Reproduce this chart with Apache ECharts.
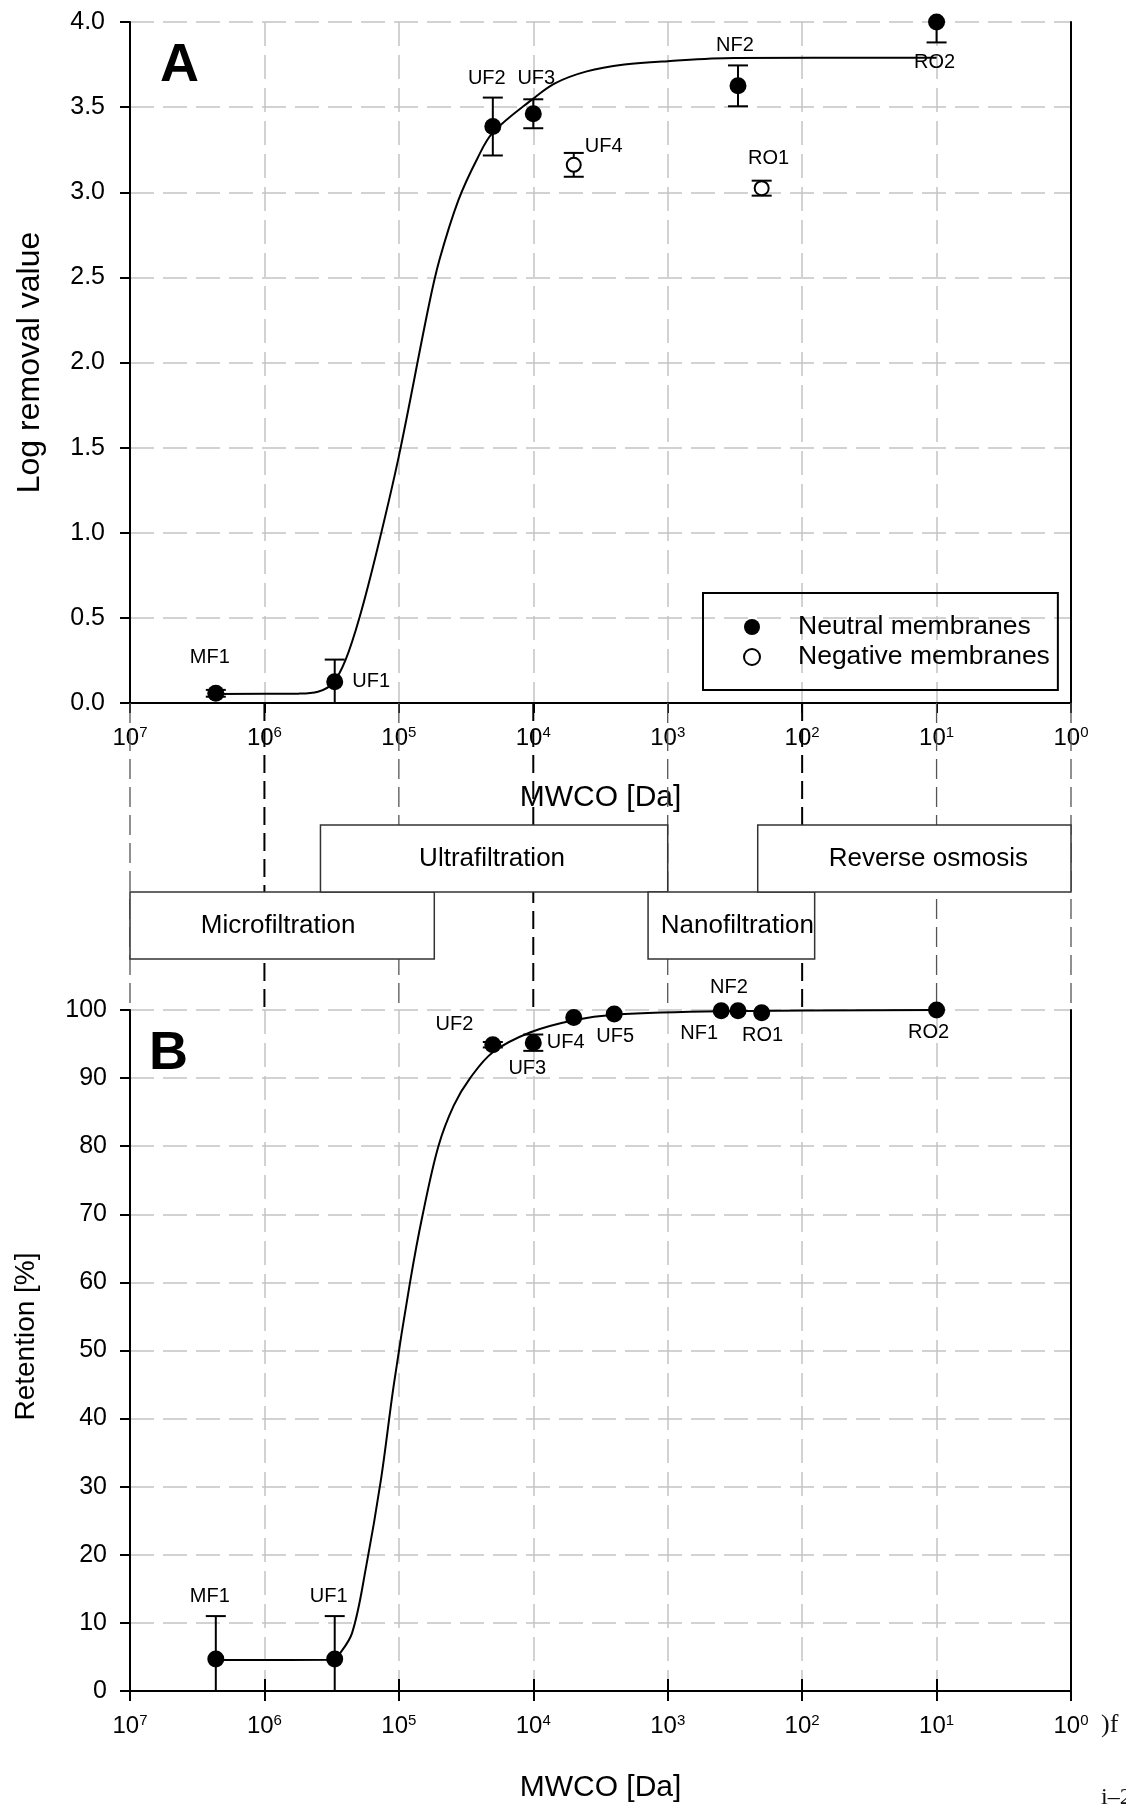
<!DOCTYPE html>
<html>
<head>
<meta charset="utf-8">
<script src="https://cdn.jsdelivr.net/npm/echarts@6/dist/echarts.min.js"></script>
<style>
  html, body { margin: 0; padding: 0; background: #fff; }
  #chart { width: 1126px; height: 1805px; }
</style>
</head>
<body>
<div id="chart"></div>
<script>
// MWCO decades shown on the axes
const decades = [1e7, 1e6, 1e5, 1e4, 1e3, 1e2, 1e1, 1];

// Panel A: log removal value
const namesA = ['MF1', 'UF1', 'UF2', 'UF3', 'UF4', 'NF2', 'RO1', 'RO2'];
const mwcoA = [2.3e6, 3e5, 2e4, 1e4, 5e3, 300, 200, 10];
const lrvA = [0.057, 0.125, 3.386, 3.461, 3.161, 3.625, 3.024, 4.0];
const lrvErrA = [0.02, 0.13, 0.17, 0.085, 0.07, 0.12, 0.044, 0.12];
const chargeA = ['neutral', 'neutral', 'neutral', 'neutral', 'negative', 'neutral', 'negative', 'neutral'];
// fitted curve
const fitMwcoA = [2.3e6, 5.6e5, 4e5, 3.1e5, 2.5e5, 1.95e5, 1.45e5, 1e5, 6e4, 5e4, 3.6e4, 2.6e4, 2e4, 1e4, 6.9e3, 4e3, 2.1e3, 1e3, 320, 10];
const fitLrvA = [0.053, 0.055, 0.066, 0.116, 0.25, 0.51, 0.9, 1.45, 2.33, 2.6, 2.955, 3.2, 3.35, 3.55, 3.64, 3.71, 3.75, 3.77, 3.788, 3.79];

// Panel B: retention
const namesB = ['MF1', 'UF1', 'UF2', 'UF3', 'UF4', 'UF5', 'NF1', 'NF2', 'RO1', 'RO2'];
const mwcoB = [2.3e6, 3e5, 2e4, 1e4, 5e3, 2.5e3, 400, 300, 200, 10];
const retB = [4.7, 4.7, 94.9, 95.2, 98.9, 99.4, 99.9, 99.9, 99.6, 100];
const retErrB = [6.3, 6.3, 0.4, 1.2, 0, 0, 0, 0, 0, 0];
const fitMwcoB = [2.3e6, 3e5, 2.86e5, 2.23e5, 1.75e5, 1.36e5, 1.09e5, 8.26e4, 6.64e4, 5.08e4, 3.9e4, 2.95e4, 2e4, 1.06e4, 5e3, 2.5e3, 400, 10];
const fitRetB = [4.55, 4.6, 5.0, 8.5, 18.3, 31, 45, 60, 70, 80, 86, 90, 93.8, 96.7, 98.5, 99.3, 99.8, 100];

// membrane process ranges (MWCO from / to, tier 0 = lower row)
const processNames = ['Microfiltration', 'Ultrafiltration', 'Nanofiltration', 'Reverse osmosis'];
const processFrom = [1e7, 3.83e5, 1.4e3, 214];
const processTo = [5.45e4, 1e3, 80.7, 1];
const processTier = [0, 1, 0, 1];

// label placement (layout only)
const labelA = {
  MF1: { position: 'top', distance: 17, offset: [-6, 0] },
  UF1: { position: 'right', distance: 9, offset: [0, 0] },
  UF2: { position: 'top', distance: 30, offset: [-6, 0] },
  UF3: { position: 'top', distance: 17, offset: [3, 0] },
  UF4: { position: 'right', distance: 3, offset: [0, -18] },
  NF2: { position: 'top', distance: 22, offset: [-3, 0] },
  RO1: { position: 'top', distance: 12, offset: [7, 0] },
  RO2: { position: 'bottom', distance: 22, offset: [-2, 0] }
};
const labelB = {
  MF1: { position: 'top', distance: 44, offset: [-6, 0] },
  UF1: { position: 'top', distance: 44, offset: [-6, 0] },
  UF2: { position: 'left', distance: 11, offset: [0, -20] },
  UF3: { position: 'bottom', distance: 7, offset: [-6, 0] },
  UF4: { position: 'bottom', distance: 6, offset: [-8, 0] },
  UF5: { position: 'bottom', distance: 4, offset: [1, 0] },
  NF1: { position: 'bottom', distance: 4, offset: [-22, 0] },
  NF2: { position: 'top', distance: 5, offset: [-9, 0] },
  RO1: { position: 'bottom', distance: 4, offset: [1, 0] },
  RO2: { position: 'bottom', distance: 4, offset: [-8, 0] }
};
// horizontal nudge of the text inside each process box
const boxTextShift = [-4, -2, 6, 14];

const FONT = '"Liberation Sans", Arial, sans-serif';
const GRID_LINE = { color: '#c4c4c4', width: 1.5, type: [24, 9] };

const chart = echarts.init(document.getElementById('chart'));

function decadeLabel(v) {
  return '{b|10}{s|' + Math.round(Math.log10(v)) + '}';
}
const tickRich = {
  b: { fontSize: 24, fontFamily: FONT, color: '#000' },
  s: { fontSize: 15, fontFamily: FONT, color: '#000', padding: [0, 0, 12, 0] }
};

function mwcoAxis(gridIndex, extra) {
  return Object.assign({
    gridIndex: gridIndex, type: 'log', logBase: 10, min: 1, max: 1e7,
    inverse: true, splitNumber: 7
  }, extra);
}

function errorBarItem(yMin, yMax) {
  return function (params, api) {
    const x = api.value(0), y = api.value(1), e = api.value(2);
    if (!e) return null;
    const hi = Math.min(y + e, yMax), lo = Math.max(y - e, yMin);
    const pHi = api.coord([x, hi]), pLo = api.coord([x, lo]);
    const cap = 10;
    const style = { stroke: '#000', lineWidth: 2 };
    const kids = [{ type: 'line', shape: { x1: pHi[0], y1: pHi[1], x2: pLo[0], y2: pLo[1] }, style: style }];
    if (hi === y + e) kids.push({ type: 'line', shape: { x1: pHi[0] - cap, y1: pHi[1], x2: pHi[0] + cap, y2: pHi[1] }, style: style });
    if (lo === y - e) kids.push({ type: 'line', shape: { x1: pLo[0] - cap, y1: pLo[1], x2: pLo[0] + cap, y2: pLo[1] }, style: style });
    return { type: 'group', children: kids };
  };
}

function pointData(names, xs, ys, layout, keep) {
  const out = [];
  names.forEach(function (n, i) {
    if (keep && !keep(i)) return;
    out.push({ name: n, value: [xs[i], ys[i]], label: layout[n] });
  });
  return out;
}

const pointLabel = { show: true, formatter: '{b}', color: '#000', fontSize: 20, fontFamily: FONT };

const option = {
  animation: false,
  backgroundColor: '#fff',
  textStyle: { fontFamily: FONT, color: '#000' },
  grid: [
    { left: 130, top: 22, width: 941, height: 681, outerBoundsMode: 'none' },
    { left: 130, top: 1010, width: 941, height: 681, outerBoundsMode: 'none' },
    { left: 130, top: 703, width: 941, height: 307, outerBoundsMode: 'none' }
  ],
  xAxis: [
    mwcoAxis(0, {
      position: 'bottom',
      name: 'MWCO [Da]', nameLocation: 'middle', nameGap: 80,
      nameTextStyle: { fontSize: 30, color: '#000', fontFamily: FONT },
      axisLine: { lineStyle: { color: '#000', width: 2 } },
      axisTick: { length: 10, lineStyle: { color: '#000', width: 2 } },
      axisLabel: { formatter: decadeLabel, rich: tickRich, margin: 22 },
      splitLine: { show: true, lineStyle: GRID_LINE }
    }),
    mwcoAxis(0, {
      position: 'top',
      axisLine: { lineStyle: { color: '#000', width: 1.5, type: [12, 8] } },
      axisTick: { show: false }, axisLabel: { show: false }, splitLine: { show: false }
    }),
    mwcoAxis(1, {
      position: 'bottom',
      name: 'MWCO [Da]', nameLocation: 'middle', nameGap: 82,
      nameTextStyle: { fontSize: 30, color: '#000', fontFamily: FONT },
      axisLine: { lineStyle: { color: '#000', width: 2 } },
      axisTick: { length: 10, lineStyle: { color: '#000', width: 2 } },
      axisLabel: { formatter: decadeLabel, rich: tickRich, margin: 22 },
      splitLine: { show: true, lineStyle: GRID_LINE }
    }),
    mwcoAxis(1, {
      position: 'top',
      axisLine: { lineStyle: { color: '#000', width: 2 } },
      axisTick: { length: 12, lineStyle: { color: '#000', width: 2 } },
      axisLabel: { show: false }, splitLine: { show: false }
    }),
    mwcoAxis(2, { show: false })
  ],
  yAxis: [
    {
      gridIndex: 0, type: 'value', min: 0, max: 4, interval: 0.5,
      name: 'Log removal value', nameLocation: 'middle', nameGap: 84,
      nameTextStyle: { fontSize: 32, color: '#000', fontFamily: FONT },
      axisLine: { show: true, lineStyle: { color: '#000', width: 2 } },
      axisTick: { show: true, length: 10, lineStyle: { color: '#000', width: 2 } },
      axisLabel: { formatter: function (v) { return v.toFixed(1); }, fontSize: 25, color: '#000', margin: 25 },
      splitLine: { show: true, lineStyle: GRID_LINE }
    },
    {
      gridIndex: 0, type: 'value', min: 0, max: 4, position: 'right',
      axisLine: { show: true, lineStyle: { color: '#000', width: 2 } },
      axisTick: { show: false }, axisLabel: { show: false }, splitLine: { show: false }
    },
    {
      gridIndex: 1, type: 'value', min: 0, max: 100, interval: 10,
      name: 'Retention [%]', nameLocation: 'middle', nameGap: 90,
      nameTextStyle: { fontSize: 28, color: '#000', fontFamily: FONT, padding: [0, 0, 0, 28] },
      axisLine: { show: true, lineStyle: { color: '#000', width: 2 } },
      axisTick: { show: true, length: 10, lineStyle: { color: '#000', width: 2 } },
      axisLabel: { fontSize: 25, color: '#000', margin: 23 },
      splitLine: { show: true, lineStyle: GRID_LINE }
    },
    {
      gridIndex: 1, type: 'value', min: 0, max: 100, position: 'right',
      axisLine: { show: true, lineStyle: { color: '#000', width: 2 } },
      axisTick: { show: false }, axisLabel: { show: false }, splitLine: { show: false }
    },
    { gridIndex: 2, type: 'value', min: -0.76, max: 3.82, show: false }
  ],
  legend: {
    data: ['Neutral membranes', 'Negative membranes'],
    orient: 'vertical', left: 703, top: 593,
    borderColor: '#000', borderWidth: 2, borderRadius: 0,
    padding: [20, 8, 19, 40],
    itemWidth: 82, itemHeight: 16, itemGap: 2,
    textStyle: { fontSize: 26.5, color: '#000', fontFamily: FONT, lineHeight: 28 },
    selectedMode: false
  },
  graphic: [
    { type: 'text', left: 160, top: 39, style: { text: 'A', font: 'bold 54px ' + FONT, fill: '#000' } },
    { type: 'text', left: 149, top: 1027, style: { text: 'B', font: 'bold 54px ' + FONT, fill: '#000' } },
    { type: 'text', left: 1101, top: 1712, style: { text: ')f', font: '26px "Liberation Serif", serif', fill: '#111' } },
    { type: 'text', left: 1101, top: 1786, style: { text: 'i\u20132', font: '24px "Liberation Serif", serif', fill: '#111' } }
  ],
  series: [
    // middle band: decade guide lines and process boxes
    {
      type: 'custom', xAxisIndex: 4, yAxisIndex: 4, z: 1, silent: true,
      data: decades.map(function (d) { return [d, 0]; }),
      encode: { x: 0, y: 1 },
      renderItem: function (params, api) {
        const p = api.coord([api.value(0), 0]);
        const cs = params.coordSys;
        const exp = Math.round(Math.log10(api.value(0)));
        const dark = exp > 0 && exp % 2 === 0;
        return {
          type: 'line',
          shape: { x1: p[0], y1: cs.y, x2: p[0], y2: cs.y + cs.height },
          style: dark ? { stroke: '#000', lineWidth: 2, lineDash: [18, 8] }
                      : { stroke: '#555', lineWidth: 1.3, lineDash: [20, 8] }
        };
      }
    },
    {
      type: 'custom', xAxisIndex: 4, yAxisIndex: 4, z: 5, silent: true,
      data: processNames.map(function (n, i) { return [processFrom[i], processTo[i], processTier[i]]; }),
      encode: { x: [0, 1], y: 2 },
      renderItem: function (params, api) {
        const p0 = api.coord([api.value(0), api.value(2) + 1]);
        const p1 = api.coord([api.value(1), api.value(2)]);
        const i = params.dataIndex;
        return {
          type: 'group',
          children: [
            { type: 'rect', shape: { x: p0[0], y: p0[1], width: p1[0] - p0[0], height: p1[1] - p0[1] },
              style: { fill: '#fff', stroke: '#333', lineWidth: 1.5 } },
            { type: 'text', x: (p0[0] + p1[0]) / 2 + boxTextShift[i], y: (p0[1] + p1[1]) / 2,
              style: { text: processNames[i], fill: '#000', font: '26px ' + FONT, align: 'center', verticalAlign: 'middle' } }
          ]
        };
      }
    },
    // panel A
    {
      name: 'fit A', type: 'line', xAxisIndex: 0, yAxisIndex: 0, z: 2,
      data: fitMwcoA.map(function (m, i) { return [m, fitLrvA[i]]; }),
      smooth: 0.35, symbol: 'none',
      lineStyle: { color: '#000', width: 2 }
    },
    {
      type: 'custom', xAxisIndex: 0, yAxisIndex: 0, z: 3, silent: true,
      data: mwcoA.map(function (m, i) { return [m, lrvA[i], lrvErrA[i]]; }),
      encode: { x: 0, y: 1 },
      renderItem: errorBarItem(0, 4)
    },
    {
      name: 'Neutral membranes', type: 'scatter', xAxisIndex: 0, yAxisIndex: 0, z: 4,
      symbol: 'circle', symbolSize: 17, clip: false,
      itemStyle: { color: '#000', opacity: 1 },
      label: pointLabel,
      data: pointData(namesA, mwcoA, lrvA, labelA, function (i) { return chargeA[i] === 'neutral'; })
    },
    {
      name: 'Negative membranes', type: 'scatter', xAxisIndex: 0, yAxisIndex: 0, z: 4,
      symbol: 'circle', symbolSize: 14, clip: false,
      itemStyle: { color: '#fff', borderColor: '#000', borderWidth: 2, opacity: 1 },
      label: pointLabel,
      data: pointData(namesA, mwcoA, lrvA, labelA, function (i) { return chargeA[i] === 'negative'; })
    },
    // panel B
    {
      name: 'fit B', type: 'line', xAxisIndex: 2, yAxisIndex: 2, z: 2,
      data: fitMwcoB.map(function (m, i) { return [m, fitRetB[i]]; }),
      smooth: 0.35, symbol: 'none',
      lineStyle: { color: '#000', width: 2 }
    },
    {
      type: 'custom', xAxisIndex: 2, yAxisIndex: 2, z: 3, silent: true,
      data: mwcoB.map(function (m, i) { return [m, retB[i], retErrB[i]]; }),
      encode: { x: 0, y: 1 },
      renderItem: errorBarItem(0, 100)
    },
    {
      name: 'Retention', type: 'scatter', xAxisIndex: 2, yAxisIndex: 2, z: 4,
      symbol: 'circle', symbolSize: 17, clip: false,
      itemStyle: { color: '#000', opacity: 1 },
      label: pointLabel,
      data: pointData(namesB, mwcoB, retB, labelB)
    }
  ]
};

chart.setOption(option);
</script>
</body>
</html>
